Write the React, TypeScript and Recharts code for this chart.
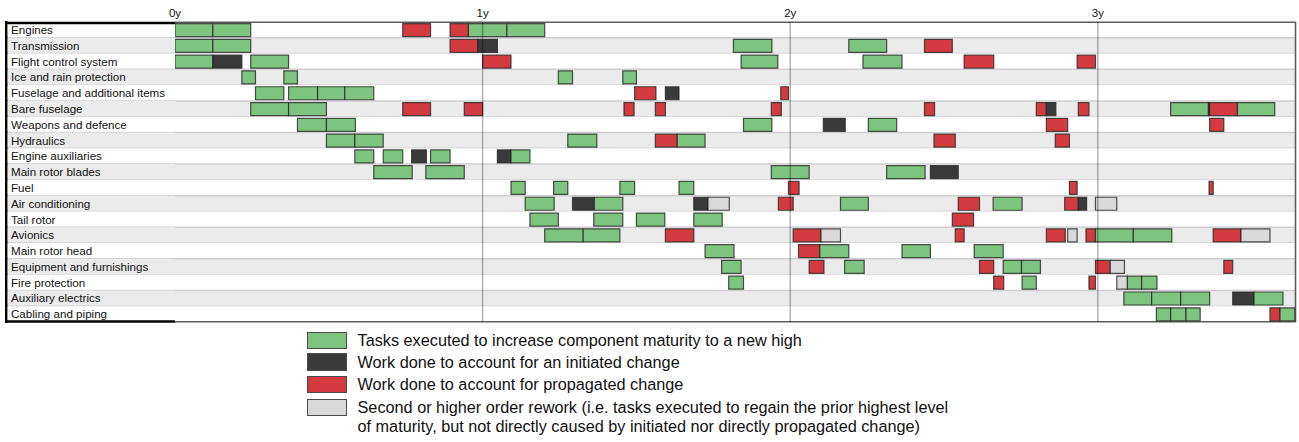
import React from 'react';
import { ComposedChart, Bar, XAxis, YAxis, Cell, ReferenceArea, ReferenceLine } from 'recharts';

type Kind = 'g' | 'k' | 'r' | 'w';
type Seg = [number, number, Kind];

// Time unit: weeks from start (1 year = 52 weeks)
const components = [
  'Engines',
  'Transmission',
  'Flight control system',
  'Ice and rain protection',
  'Fuselage and additional items',
  'Bare fuselage',
  'Weapons and defence',
  'Hydraulics',
  'Engine auxiliaries',
  'Main rotor blades',
  'Fuel',
  'Air conditioning',
  'Tail rotor',
  'Avionics',
  'Main rotor head',
  'Equipment and furnishings',
  'Fire protection',
  'Auxiliary electrics',
  'Cabling and piping',
];

const engines: Seg[] = [[0, 6.4, 'g'], [6.4, 12.8, 'g'], [38.5, 43.2, 'r'], [46.5, 49.6, 'r'], [49.6, 56.1, 'g'], [56.1, 62.5, 'g']];
const transmission: Seg[] = [[0, 6.4, 'g'], [6.4, 12.8, 'g'], [46.5, 51.2, 'r'], [51.2, 54.5, 'k'], [94.4, 100.9, 'g'], [113.9, 120.3, 'g'], [126.7, 131.4, 'r']];
const flightControl: Seg[] = [[0, 6.4, 'g'], [6.4, 11.3, 'k'], [12.8, 19.2, 'g'], [52.0, 56.8, 'r'], [95.7, 101.9, 'g'], [116.3, 122.9, 'g'], [133.4, 138.4, 'r'], [152.5, 155.6, 'r']];
const iceRain: Seg[] = [[11.3, 13.6, 'g'], [18.4, 20.7, 'g'], [64.8, 67.2, 'g'], [75.7, 78.0, 'g']];
const fuselageItems: Seg[] = [[13.6, 18.4, 'g'], [19.2, 24.1, 'g'], [24.1, 28.7, 'g'], [28.7, 33.6, 'g'], [77.7, 81.3, 'r'], [82.9, 85.2, 'k'], [102.4, 103.7, 'r']];
const bareFuselage: Seg[] = [[12.8, 19.2, 'g'], [19.2, 25.6, 'g'], [38.5, 43.2, 'r'], [48.9, 52.0, 'r'], [75.9, 77.6, 'r'], [81.2, 82.9, 'r'], [100.8, 102.5, 'r'], [126.7, 128.4, 'r'], [145.6, 147.3, 'r'], [147.3, 148.9, 'k'], [152.7, 154.5, 'r'], [168.3, 174.7, 'g'], [174.7, 174.9, 'k'], [174.9, 179.6, 'r'], [179.6, 185.9, 'g']];
const weapons: Seg[] = [[20.7, 25.6, 'g'], [25.6, 30.5, 'g'], [96.1, 100.9, 'g'], [109.6, 113.3, 'k'], [117.2, 122.0, 'g'], [147.3, 150.9, 'r'], [174.9, 177.3, 'r']];
const hydraulics: Seg[] = [[25.6, 30.4, 'g'], [30.4, 35.2, 'g'], [66.4, 71.3, 'g'], [81.2, 84.9, 'r'], [84.9, 89.6, 'g'], [128.3, 131.9, 'r'], [148.8, 151.2, 'r']];
const engineAux: Seg[] = [[30.4, 33.6, 'g'], [35.2, 38.5, 'g'], [40.0, 42.5, 'k'], [43.2, 46.5, 'g'], [54.5, 56.8, 'k'], [56.8, 60.0, 'g']];
const rotorBlades: Seg[] = [[33.6, 40.1, 'g'], [42.4, 48.9, 'g'], [100.8, 107.2, 'g'], [120.3, 126.8, 'g'], [127.7, 132.4, 'k']];
const fuel: Seg[] = [[56.8, 59.2, 'g'], [64.0, 66.4, 'g'], [75.2, 77.7, 'g'], [85.2, 87.7, 'g'], [103.7, 105.5, 'r'], [151.2, 152.5, 'r'], [174.8, 175.5, 'r']];
const airCon: Seg[] = [[59.2, 64.1, 'g'], [67.2, 70.8, 'k'], [70.9, 75.7, 'g'], [87.7, 90.1, 'k'], [90.1, 93.7, 'w'], [102.0, 104.5, 'r'], [112.5, 117.2, 'g'], [132.4, 136.0, 'r'], [138.3, 143.2, 'g'], [150.4, 152.7, 'r'], [152.7, 154.1, 'k'], [155.6, 159.2, 'w']];
const tailRotor: Seg[] = [[60.0, 64.8, 'g'], [70.8, 75.7, 'g'], [78.0, 82.8, 'g'], [87.7, 92.5, 'g'], [131.4, 135.0, 'r']];
const avionics: Seg[] = [[62.5, 69.0, 'g'], [69.0, 75.2, 'g'], [82.9, 87.7, 'r'], [104.5, 109.2, 'r'], [109.2, 112.5, 'w'], [131.9, 133.4, 'r'], [147.3, 150.5, 'r'], [150.9, 152.5, 'w'], [154.0, 155.6, 'r'], [155.6, 162.0, 'g'], [162.0, 168.5, 'g'], [175.5, 180.2, 'r'], [180.2, 185.1, 'w']];
const rotorHead: Seg[] = [[89.6, 94.5, 'g'], [105.4, 109.0, 'r'], [109.0, 113.9, 'g'], [122.9, 127.7, 'g'], [135.1, 140.0, 'g']];
const equipment: Seg[] = [[92.4, 95.7, 'g'], [107.2, 109.7, 'r'], [113.2, 116.5, 'g'], [136.0, 138.4, 'r'], [140.0, 143.1, 'g'], [143.1, 146.3, 'g'], [155.6, 158.1, 'r'], [158.1, 160.5, 'w'], [177.3, 178.8, 'r']];
const fireProtection: Seg[] = [[93.6, 96.1, 'g'], [138.4, 140.1, 'r'], [143.2, 145.6, 'g'], [154.5, 155.6, 'r'], [159.2, 161.0, 'w'], [161.0, 163.4, 'g'], [163.4, 166.0, 'g']];
const auxElectrics: Seg[] = [[160.4, 165.1, 'g'], [165.1, 170.0, 'g'], [170.0, 174.9, 'g'], [178.8, 182.4, 'k'], [182.4, 187.3, 'g']];
const cabling: Seg[] = [[165.9, 168.3, 'g'], [168.3, 170.9, 'g'], [170.9, 173.3, 'g'], [185.1, 186.8, 'r'], [186.8, 189.3, 'g']];

const rows: Seg[][] = [
  engines, transmission, flightControl, iceRain, fuselageItems, bareFuselage, weapons, hydraulics,
  engineAux, rotorBlades, fuel, airCon, tailRotor, avionics, rotorHead, equipment, fireProtection,
  auxElectrics, cabling,
];

const yearTicks = [0, 52, 104, 156];
const yearLabels = ['0y', '1y', '2y', '3y'];
const gridYears = [52, 104, 156];
const domainMax = 189.5;

const legendKinds: Kind[] = ['g', 'k', 'r', 'w'];
const legendLabels = [
  ['Tasks executed to increase component maturity to a new high'],
  ['Work done to account for an initiated change'],
  ['Work done to account for propagated change'],
  [
    'Second or higher order rework (i.e. tasks executed to regain the prior highest level',
    'of maturity, but not directly caused by initiated nor directly propagated change)',
  ],
];

const colors: Record<Kind, string> = {
  g: '#7cc47f',
  k: '#3a3a3a',
  r: '#d43b40',
  w: '#d9d9d9',
};

const FONT = '"Liberation Sans", Arial, Helvetica, sans-serif';

const maxSegs = Math.max(...rows.map((r) => r.length));

const table = components.map((name, i) => {
  const o: Record<string, any> = { name };
  let prev = 0;
  for (let j = 0; j < maxSegs; j++) {
    const s = rows[i][j];
    if (s) {
      o[`gap${j}`] = Math.max(0, s[0] - prev);
      o[`seg${j}`] = s[1] - s[0];
      prev = s[1];
    } else {
      o[`gap${j}`] = 0;
      o[`seg${j}`] = 0;
    }
  }
  return o;
});

const LabelTick = (props: any) => {
  const { y, payload } = props;
  const idx = components.indexOf(payload.value);
  const half = payload && payload.offset ? payload.offset : 300 / components.length / 2;
  const top = y - half;
  const h = half * 2;
  return (
    <g>
      <rect x={5} y={top} width={170} height={h} fill={idx % 2 ? '#ebebeb' : '#ffffff'} />
      {idx < components.length - 1 && (
        <line x1={5} x2={175} y1={top + h} y2={top + h} stroke="#cfcfcf" strokeWidth={1.5} />
      )}
      <text x={11} y={y} dy="0.36em" fontSize={11.6} fill="#111" fontFamily={FONT}>
        {payload.value}
      </text>
      <line x1={6.2} x2={6.2} y1={top - 1} y2={top + h + 1} stroke="#000" strokeWidth={2.4} />
      {idx === 0 && <line x1={5} x2={175} y1={top + 1} y2={top + 1} stroke="#000" strokeWidth={2.4} />}
      {idx === components.length - 1 && (
        <line x1={5} x2={175} y1={top + h - 0.5} y2={top + h - 0.5} stroke="#000" strokeWidth={2.4} />
      )}
    </g>
  );
};

const YearTick = (props: any) => {
  const { x, payload } = props;
  const i = yearTicks.indexOf(payload.value);
  return (
    <text x={x} y={16.5} textAnchor="middle" fontSize={11.5} fill="#111" fontFamily={FONT}>
      {yearLabels[i]}
    </text>
  );
};

const RowShape = (idx: number) => (p: any) => {
  const { x, y, width, height } = p;
  return (
    <g>
      <rect x={x} y={y} width={width} height={height} fill={idx % 2 ? '#ebebeb' : '#ffffff'} />
      {idx % 2 === 1 && (
        <>
          <line x1={x} x2={x + width} y1={y} y2={y} stroke="#cfcfcf" strokeWidth={1.5} />
          <line x1={x} x2={x + width} y1={y + height} y2={y + height} stroke="#cfcfcf" strokeWidth={1.5} />
        </>
      )}
    </g>
  );
};

const FrameShape = (p: any) => {
  const { x, y, width, height } = p;
  return (
    <g fill="none" stroke="#5c5c5c" strokeWidth={1.6}>
      <line x1={x} x2={x + width} y1={y + 0.3} y2={y + 0.3} />
      <line x1={x + width - 0.5} x2={x + width - 0.5} y1={y} y2={y + height} />
      <line x1={x} x2={x + width} y1={y + height - 0.3} y2={y + height - 0.3} />
    </g>
  );
};

export default function App() {
  const bars: React.ReactNode[] = [];
  for (let j = 0; j < maxSegs; j++) {
    bars.push(
      <Bar key={`gap${j}`} dataKey={`gap${j}`} stackId="t" fill="transparent" stroke="none" isAnimationActive={false} />
    );
    bars.push(
      <Bar
        key={`seg${j}`}
        dataKey={`seg${j}`}
        stackId="t"
        isAnimationActive={false}
        stroke="#262626"
        strokeOpacity={0.8}
        strokeWidth={1.2}
      >
        {table.map((_, i) => (
          <Cell key={i} fill={rows[i][j] ? colors[rows[i][j][2]] : 'none'} />
        ))}
      </Bar>
    );
  }

  const legendTops = [0, 21.5, 44, 67];

  return (
    <div style={{ position: 'absolute', left: 0, top: 0, width: 1299, height: 442, background: '#fff', fontFamily: FONT }}>
      <ComposedChart
        layout="vertical"
        width={1299}
        height={325}
        data={table}
        margin={{ top: 0, right: 3, bottom: 3, left: 5 }}
        barCategoryGap="10%"
      >
        <XAxis
          type="number"
          orientation="top"
          domain={[0, domainMax]}
          allowDataOverflow
          ticks={yearTicks}
          interval={0}
          height={22}
          axisLine={false}
          tickLine={false}
          tick={<YearTick />}
        />
        <YAxis
          type="category"
          dataKey="name"
          width={170}
          interval={0}
          axisLine={false}
          tickLine={false}
          tick={<LabelTick />}
        />
        {components.map((name, i) => (
          <ReferenceArea
            key={`row${i}`}
            y1={name}
            y2={name}
            x1={0}
            x2={domainMax}
            ifOverflow="visible"
            shape={RowShape(i)}
          />
        ))}
        {bars}
        {gridYears.map((v) => (
          <ReferenceLine key={`yr${v}`} x={v} stroke="#000" strokeOpacity={0.3} strokeWidth={1.5} />
        ))}
        <ReferenceArea x1={0} x2={domainMax} ifOverflow="visible" shape={FrameShape} />
      </ComposedChart>
      <div style={{ position: 'absolute', left: 307, top: 331 }}>
        {legendKinds.map((k, i) => (
          <div
            key={k}
            style={{ position: 'absolute', left: 0, top: legendTops[i], display: 'flex', alignItems: 'flex-start', width: 760 }}
          >
            <div
              style={{
                width: 38,
                height: 15.5,
                marginTop: 0.5,
                background: colors[k],
                border: '1.3px solid #4a4a4a',
                flex: 'none',
              }}
            />
            <div style={{ marginLeft: 10.5, fontSize: 16.25, lineHeight: '19.4px', color: '#111', whiteSpace: 'nowrap' }}>
              {legendLabels[i].map((t, n) => (
                <div key={n}>{t}</div>
              ))}
            </div>
          </div>
        ))}
      </div>
    </div>
  );
}
